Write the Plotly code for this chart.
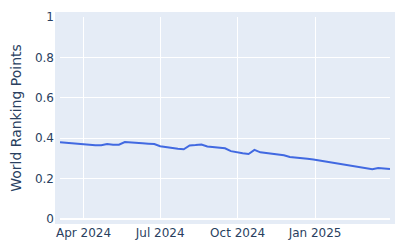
import plotly.graph_objects as go
import pandas as pd

dates = pd.date_range("2024-03-04", "2025-03-31", freq="7D")
points = [0.380, 0.377, 0.374, 0.373, 0.369, 0.366, 0.365, 0.365, 0.371, 0.368,
          0.368, 0.381, 0.380, 0.379, 0.375, 0.373, 0.371, 0.360, 0.355, 0.351,
          0.348, 0.345, 0.364, 0.366, 0.369, 0.359, 0.357, 0.353, 0.350, 0.336,
          0.330, 0.325, 0.322, 0.342, 0.330, 0.327, 0.325, 0.320, 0.316, 0.307,
          0.303, 0.300, 0.298, 0.295, 0.290, 0.285, 0.281, 0.277, 0.271, 0.266,
          0.260, 0.258, 0.253, 0.246, 0.252, 0.251, 0.248]

fig = go.Figure(go.Scatter(x=dates, y=points, mode="lines",
                           line=dict(color="royalblue", width=2)))
fig.update_layout(
    width=400, height=250,
    margin=dict(l=60, r=10, t=17, b=31, pad=5),
    plot_bgcolor="#E5ECF6", paper_bgcolor="white",
    showlegend=False,
    yaxis=dict(range=[0, 1], title=dict(text="World Ranking Points", font=dict(size=14)),
               gridcolor="white", zerolinecolor="white", zerolinewidth=2,
               tickfont=dict(size=12), dtick=0.2),
    xaxis=dict(gridcolor="white", tickfont=dict(size=12), showline=False),
    font=dict(color="#2a3f5f", family="DejaVu Sans"),
)
fig.write_html("out.html")
